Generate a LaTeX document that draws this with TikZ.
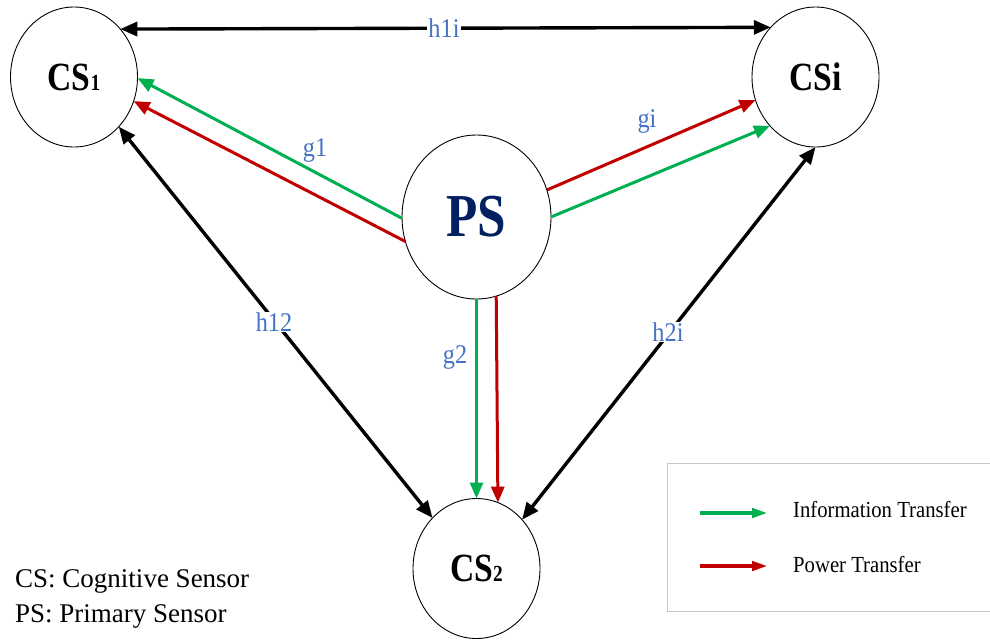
\documentclass[tikz,border=0pt]{standalone}
\usepackage{fontspec}
\setmainfont{Liberation Serif}
\newfontfamily\nfont[FakeStretch=0.84]{Liberation Serif}
\newfontfamily\lfont[FakeStretch=0.9]{Liberation Serif}
\usetikzlibrary{arrows.meta,shapes.geometric}
\definecolor{grn}{HTML}{00B050}
\definecolor{rd}{HTML}{C00000}
\definecolor{lbl}{HTML}{4472C4}
\definecolor{navy}{HTML}{002060}
\definecolor{lgray}{HTML}{C8C8C8}
\begin{document}
\begin{tikzpicture}[x=1pt,y=-1pt,
  sensor/.style={ellipse, draw=black, line width=0.9pt, inner sep=0pt, outer sep=0pt},
  cs/.style={sensor, minimum width=127pt, minimum height=140pt, font=\nfont\bfseries\fontsize{40}{40}\selectfont},
  ps/.style={sensor, minimum width=149pt, minimum height=164pt, text=navy, font=\nfont\bfseries\fontsize{61}{61}\selectfont},
  blk/.style={line width=3.4pt, black, {Triangle[length=17pt,width=14pt]}-{Triangle[length=17pt,width=14pt]}},
  info/.style={line width=3pt, grn, -{Triangle[length=16pt,width=13pt]}},
  power/.style={line width=3pt, rd, -{Triangle[length=16pt,width=13pt]}},
  lab/.style={text=lbl, inner sep=1pt, font=\lfont\fontsize{27}{27}\selectfont},
  labw/.style={lab, fill=white},
  legtxt/.style={anchor=base west, inner sep=0pt, font=\lfont\fontsize{23}{23}\selectfont},
  note/.style={anchor=base west, inner sep=0pt, font=\fontsize{27}{27}\selectfont}
]
\useasboundingbox (0,0) rectangle (990,641);

% nodes
\node[cs] (CS1) at (74,77) {CS{\fontsize{23}{23}\selectfont 1}};
\node[cs] (CSi) at (815.5,77) {CSi};
\node[ps] (PS) at (476.5,217) {PS};
\node[cs] (CS2) at (476.5,568.5) {CS{\fontsize{23}{23}\selectfont 2}};

% black links
\draw[blk] (CS1.46.8) -- (CSi.132.9);
\draw[blk] (CS1.-48) -- (CS2.131.4);
\draw[blk] (CS2.47.4) -- (CSi.270);

% PS -> CS1
\draw[info] (PS.181) -- (CS1.-1);
\draw[power] (PS.199.2) -- (CS1.-22.2);
% PS -> CSi
\draw[power] (PS.21.9) -- (CSi.201.5);
\draw[info] (PS.-0.8) -- (CSi.227.8);
% PS -> CS2
\draw[info] (PS.270) -- (CS2.90);
\draw[power] (PS.284.6) -- (CS2.72.9);

% labels
\node[labw] (lh1i) at (444,28) {h1i};
\node[labw] (lh12) at (274,322) {h12};
\node[labw] (lh2i) at (668,332) {h2i};
\node[lab, anchor=base] (lg1) at (315,156) {g1};
\node[lab, anchor=base] (lgi) at (647,127) {gi};
\node[lab, anchor=base] (lg2) at (455,363) {g2};

% legend
\draw[lgray, line width=1pt] (667,463) rectangle (1000,611);
\coordinate (la1) at (700,513);
\coordinate (la2) at (768,513);
\coordinate (lb1) at (700,566);
\coordinate (lb2) at (768,566);
\draw[line width=4pt, grn, -{Triangle[length=16pt,width=9pt]}] (la1) -- (la2);
\draw[line width=4pt, rd, -{Triangle[length=16pt,width=9pt]}] (lb1) -- (lb2);
\node[legtxt] (lt1) at (793,517) {Information Transfer};
\node[legtxt] (lt2) at (793,572) {Power Transfer};

% notes
\node[note] (n1) at (15,587) {CS: Cognitive Sensor};
\node[note] (n2) at (15,622) {PS: Primary Sensor};
\end{tikzpicture}
\end{document}
